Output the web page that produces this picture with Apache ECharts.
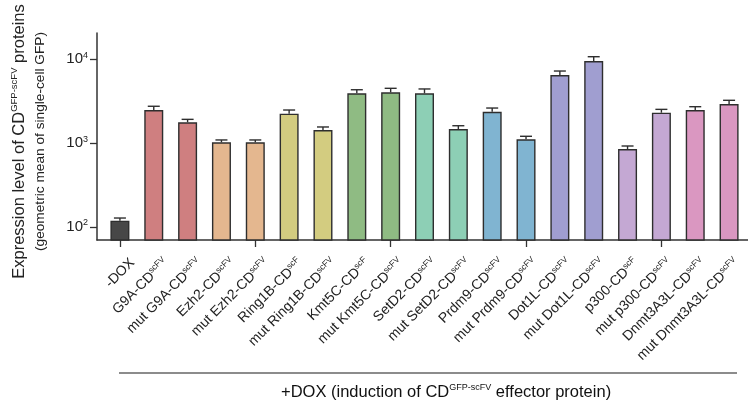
<!DOCTYPE html>
<html>
<head>
<meta charset="utf-8">
<script src="https://cdn.jsdelivr.net/npm/echarts@6/dist/echarts.min.js"></script>
<style>html,body{margin:0;padding:0;background:#fff}#c{width:748px;height:402px}</style>
</head>
<body>
<div id="c"></div>
<script>
const categories = ['-DOX','G9A-CD','mut G9A-CD','Ezh2-CD','mut Ezh2-CD','Ring1B-CD','mut Ring1B-CD','Kmt5C-CD','mut Kmt5C-CD','SetD2-CD','mut SetD2-CD','Prdm9-CD','mut Prdm9-CD','Dot1L-CD','mut Dot1L-CD','p300-CD','mut p300-CD','Dnmt3A3L-CD','mut Dnmt3A3L-CD'];
const superscripts = ['','scFV','scFV','scFV','scFV','scF','scFV','scF','scFV','scFV','scFV','scFV','scFV','scFV','scFV','scF','scFV','scFV','scFV'];
const means = [119, 2485, 1774, 1023, 1023, 2245, 1435, 3930, 4036, 3930, 1475, 2371, 1112, 6500, 9550, 851, 2307, 2485, 2930];
const errTops = [128, 2755, 1923, 1092, 1092, 2485, 1560, 4337, 4510, 4430, 1614, 2624, 1208, 7250, 10740, 925, 2530, 2722, 3245];
const colors = ['#474747','#cf7f80','#cf7f80','#e4b78f','#e4b78f','#d3cc80','#d3cc80','#8fbb83','#8fbb83','#8dcfb5','#8dcfb5','#80b4d1','#80b4d1','#a09ed0','#a09ed0','#c4a8d3','#c4a8d3','#da97c1','#da97c1'];
const yTickMin = 100, yTickMax = 10000;
const yMin = 70, yMax = 20600;

// pixel geometry of the plot area
const plotTop = 33, plotBottom = 240, H = 402;
const pxPerDecade = (plotBottom - plotTop) / (Math.log10(yMax) - Math.log10(yMin));
const tickTop = plotBottom - (Math.log10(yTickMax) - Math.log10(yMin)) * pxPerDecade;
const tickBottom = plotBottom - (Math.log10(yTickMin) - Math.log10(yMin)) * pxPerDecade;

const chart = echarts.init(document.getElementById('c'));
const font = 'Arial, "Liberation Sans", sans-serif';
chart.setOption({
  animation: false,
  backgroundColor: '#fff',
  grid: [
    {left: 103, right: 2, top: plotTop, bottom: H - plotBottom},
    {left: 97, right: 0, top: plotTop, bottom: H - plotBottom},
    {left: 110, right: -5, top: plotTop, bottom: H - plotBottom},
    {left: 97, right: 0, top: tickTop, bottom: H - tickBottom}
  ],
  xAxis: [
    {
      type: 'category', gridIndex: 0, data: categories,
      axisLine: {show: false},
      axisTick: {show: true, alignWithLabel: true, length: 7, lineStyle: {color: '#333', width: 1.3}},
      axisLabel: {show: false}
    },
    {
      type: 'value', gridIndex: 1, min: 0, max: 1,
      axisLine: {show: true, lineStyle: {color: '#333', width: 1.5}},
      axisTick: {show: false}, axisLabel: {show: false}, splitLine: {show: false}
    },
    {
      type: 'category', gridIndex: 2, data: categories,
      axisLine: {show: false}, axisTick: {show: false},
      axisLabel: {
        rotate: 45, interval: 0, margin: 15, verticalAlign: 'top', color: '#222', fontFamily: font,
        formatter: function (v, i) { return superscripts[i] ? '{n|' + v + '}{s|' + superscripts[i] + '}' : '{n|' + v + '}'; },
        rich: {
          n: {fontSize: 14, fontFamily: font, color: '#222', lineHeight: 16},
          s: {fontSize: 8.5, fontFamily: font, color: '#222', verticalAlign: 'top', lineHeight: 16}
        }
      }
    },
    {type: 'value', gridIndex: 3, min: 0, max: 1, show: false}
  ],
  yAxis: [
    {type: 'log', gridIndex: 0, min: yMin, max: yMax, show: false, splitLine: {show: false}},
    {
      type: 'log', gridIndex: 1, min: yMin, max: yMax,
      axisLine: {show: true, lineStyle: {color: '#333', width: 1.5}},
      axisTick: {show: false}, axisLabel: {show: false}, splitLine: {show: false},
      name: '{a|Expression level of CD}{as|GFP-scFV}{a| proteins}\n{b|(geometric mean of single-cell GFP)}',
      nameLocation: 'middle', nameGap: 47, nameRotate: 90,
      nameTextStyle: {
        align: 'center', padding: [0, 10, 0, 0],
        rich: {
          a: {fontSize: 16.5, fontFamily: font, color: '#222', lineHeight: 21},
          as: {fontSize: 9.5, fontFamily: font, color: '#222', verticalAlign: 'top', lineHeight: 21},
          b: {fontSize: 13.7, fontFamily: font, color: '#222', lineHeight: 20, align: 'center'}
        }
      }
    },
    {type: 'log', gridIndex: 2, min: yMin, max: yMax, show: false, splitLine: {show: false}},
    {
      type: 'log', gridIndex: 3, min: yTickMin, max: yTickMax,
      axisLine: {show: false},
      axisTick: {show: true, length: 7, lineStyle: {color: '#333', width: 1.3}},
      axisLabel: {
        margin: 9,
        formatter: function (v) { return '{n|10}{s|' + Math.round(Math.log10(v)) + '}'; },
        rich: {
          n: {fontSize: 15, fontFamily: font, color: '#222', lineHeight: 17},
          s: {fontSize: 9, fontFamily: font, color: '#222', verticalAlign: 'top', lineHeight: 17}
        }
      },
      splitLine: {show: false}
    }
  ],
  series: [
    {
      type: 'bar', xAxisIndex: 0, yAxisIndex: 0, barWidth: 19,
      data: means.map((v, i) => ({value: v, itemStyle: {color: colors[i]}})),
      itemStyle: {borderColor: '#2e2e2e', borderWidth: 1.4}
    },
    {
      type: 'custom', xAxisIndex: 0, yAxisIndex: 0,
      data: means.map((v, i) => [i, v, errTops[i]]),
      renderItem: function (params, api) {
        const top = api.coord([api.value(0), api.value(1)]);
        const err = api.coord([api.value(0), api.value(2)]);
        return {
          type: 'group',
          children: [
            {type: 'line', shape: {x1: top[0], y1: top[1], x2: err[0], y2: err[1]}, style: {stroke: '#2e2e2e', lineWidth: 1.4}},
            {type: 'line', shape: {x1: err[0] - 6, y1: err[1], x2: err[0] + 6, y2: err[1]}, style: {stroke: '#2e2e2e', lineWidth: 1.4}}
          ]
        };
      }
    }
  ],
  graphic: [
    {type: 'line', shape: {x1: 119, y1: 373, x2: 737, y2: 373}, style: {stroke: '#666', lineWidth: 1.5}},
    {
      type: 'text', left: 281, top: 383,
      style: {
        text: '{t|+DOX (induction of CD}{s|GFP-scFV}{t| effector protein)}',
        rich: {
          t: {fontSize: 16.5, fontFamily: font, fill: '#111', lineHeight: 19},
          s: {fontSize: 9, fontFamily: font, fill: '#111', verticalAlign: 'top', lineHeight: 19}
        }
      }
    }
  ]
});
</script>
</body>
</html>
